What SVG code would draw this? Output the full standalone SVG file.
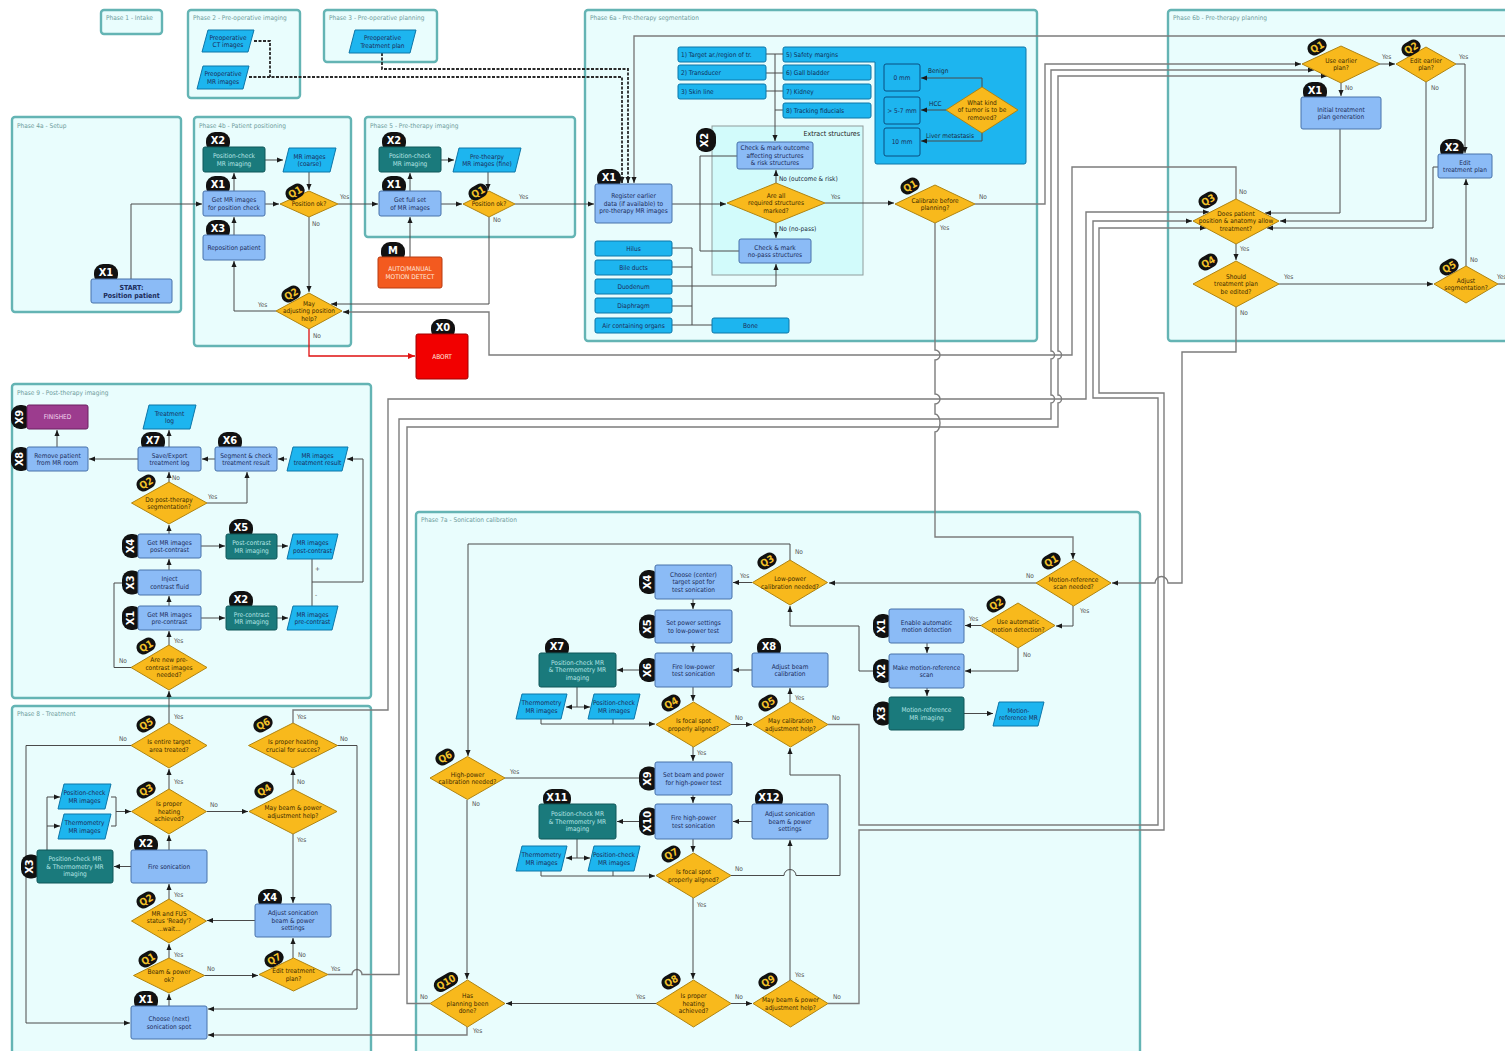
<svg xmlns="http://www.w3.org/2000/svg" width="1505" height="1051" viewBox="0 0 1505 1051">
<defs>
<marker id="ah" viewBox="0 0 8 8" refX="8" refY="4" markerWidth="6" markerHeight="6" markerUnits="userSpaceOnUse" orient="auto"><path d="M0,0.6 L8,4 L0,7.4 Z" fill="#1a1a1a"/></marker>
<marker id="ahr" viewBox="0 0 8 8" refX="8" refY="4" markerWidth="7" markerHeight="7" markerUnits="userSpaceOnUse" orient="auto"><path d="M0,0.6 L8,4 L0,7.4 Z" fill="#e01010"/></marker>
<style>
text{font-family:"DejaVu Sans Condensed","Liberation Sans Narrow","DejaVu Sans",sans-serif;font-stretch:condensed}
.ph{fill:#e9fdfd;stroke:#64b4b4;stroke-width:2.4}
.pl{font-size:6.5px;fill:#6e9c9c}
.p{fill:#8bbbf6;stroke:#4872aa;stroke-width:1}
.d{fill:#1a7a7c;stroke:#0f5658;stroke-width:1}
.io{fill:#1db5ef;stroke:#0d76a8;stroke-width:1}
.mm{fill:#1db5ef;stroke:#0a4f80;stroke-width:1}
.q{fill:#f8b91c;stroke:#b08410;stroke-width:1}
.t{font-size:6.5px;fill:#1c2c5a;text-anchor:middle}
.tb{font-size:7px;font-weight:bold;fill:#1c2c5a;text-anchor:middle}
.ts{font-size:6.5px;fill:#10305a}
.tl{font-size:6.5px;fill:#b4e4e4;text-anchor:middle}
.tw{font-size:6.5px;fill:#ffe6dc;text-anchor:middle}
.tf{font-size:6.5px;fill:#f4d8f0;text-anchor:middle}
.tq{font-size:6.5px;fill:#3c2a00;text-anchor:middle}
.lb{font-size:6.5px;fill:#555}
.lk{font-size:6.5px;fill:#1a2a40}
.c{fill:none;stroke:#4a4a4a;stroke-width:1;marker-end:url(#ah)}
.n{fill:none;stroke:#4a4a4a;stroke-width:1}
.r{fill:none;stroke:#7c7c7c;stroke-width:1.4;marker-end:url(#ah)}
.dash{fill:none;stroke:#2a2a2a;stroke-width:1.8;stroke-dasharray:3 1.5}
.bd{fill:#111}
.bx{font-size:11px;font-weight:bold;fill:#fff;text-anchor:middle}
.bq{font-size:10px;font-weight:bold;fill:#f3c22a;text-anchor:middle}
</style>
</defs>
<rect width="1505" height="1051" fill="#fff"/>

<!-- phase containers -->
<g id="phases">
<g id="phase-1"><rect class="ph" x="101" y="10" width="61" height="24" rx="3"/><text class="pl" x="106" y="20">Phase 1 - Intake</text></g>
<g id="phase-2"><rect class="ph" x="188" y="10" width="112" height="88" rx="3"/><text class="pl" x="193" y="20">Phase 2 - Pre-operative imaging</text></g>
<g id="phase-3"><rect class="ph" x="324" y="10" width="113" height="52" rx="3"/><text class="pl" x="329" y="20">Phase 3 - Pre-operative planning</text></g>
<g id="phase-4a"><rect class="ph" x="12" y="117" width="169" height="195" rx="3"/><text class="pl" x="17" y="128">Phase 4a - Setup</text></g>
<g id="phase-4b"><rect class="ph" x="194" y="117" width="157" height="229" rx="3"/><text class="pl" x="199" y="128">Phase 4b - Patient positioning</text></g>
<g id="phase-5"><rect class="ph" x="365" y="117" width="210" height="120" rx="3"/><text class="pl" x="370" y="128">Phase 5 - Pre-therapy imaging</text></g>
<g id="phase-6a"><rect class="ph" x="585" y="10" width="452" height="331" rx="3"/><text class="pl" x="590" y="20">Phase 6a - Pre-therapy segmentation</text></g>
<g id="phase-6b"><rect class="ph" x="1168" y="10" width="350" height="331" rx="3"/><text class="pl" x="1173" y="20">Phase 6b - Pre-therapy planning</text></g>
<g id="phase-9"><rect class="ph" x="12" y="384" width="359" height="314" rx="3"/><text class="pl" x="17" y="395">Phase 9 - Post-therapy imaging</text></g>
<g id="phase-8"><rect class="ph" x="12" y="706" width="359" height="360" rx="3"/><text class="pl" x="17" y="716">Phase 8 - Treatment</text></g>
<g id="phase-7a"><rect class="ph" x="416" y="512" width="724" height="560" rx="3"/><text class="pl" x="421" y="522">Phase 7a - Sonication calibration</text></g>
<g id="extract-structures"><rect x="712" y="126" width="151" height="149" fill="#d2fbfb" stroke="#909c9c" stroke-width="1"/><text x="860" y="136" font-size="7" fill="#222" text-anchor="end">Extract structures</text>
<g transform="translate(704,140) rotate(-90)"><rect class="bd" x="-12" y="-8" width="24" height="20" rx="9"/><text class="bx" y="4">X2</text></g></g>
<g id="safety-margins"><path class="io" d="M785,47 H1024 Q1026,47 1026,49 V162 Q1026,164 1024,164 H877 Q875,164 875,162 V62 H785 Q783,62 783,60 V49 Q783,47 785,47 Z"/><text class="ts" x="786" y="57">5) Safety margins</text></g>
</g>

<!-- connectors -->
<g id="connectors">
<path class="dash" d="M254,41 H270 V77"/>
<path class="dash" d="M249,77 H622 V183" marker-end="url(#ah)"/>
<path class="dash" d="M382,53 V69 H628 V183" marker-end="url(#ah)"/>
<path class="r" d="M1498,284 H1515 V36 H634 V183"/>
<path class="c" d="M131,279 V204 H202"/>
<path class="c" d="M234,191 V173"/>
<path class="c" d="M265,160 H283"/>
<path class="c" d="M309,172 V190"/>
<path class="c" d="M265,204 H279"/>
<path class="c" d="M338,204 H378"/>
<path class="c" d="M309,217 V292"/>
<path class="c" d="M234,235 V217"/>
<path class="c" d="M276,311 H234 V261"/>
<path fill="none" stroke="#e01010" stroke-width="1.3" marker-end="url(#ahr)" d="M309,329 V356 H415"/>
<path class="c" d="M489,217 V304 H331"/>
<path class="r" d="M1236,199 V167 H1072 V355 H489 V312 H343"/>
<path class="c" d="M410,191 V173"/>
<path class="c" d="M441,160 H454"/>
<path class="c" d="M488,172 V190"/>
<path class="c" d="M410,257 V217"/>
<path class="c" d="M441,204 H462"/>
<path class="c" d="M515,204 H594"/>
<path class="c" d="M672,204 H726"/>
<path class="n" d="M737,156 H700 V251 H739"/>
<path class="n" d="M766,54 H783 M766,73 H783 M766,91 H783 M775,110 H783"/>
<path class="c" d="M775,54 V141"/>
<path class="c" d="M776,183 V170"/>
<path class="c" d="M776,223 V238"/>
<path class="c" d="M825,203 H894"/>
<path class="n" d="M672,248 H692 V325 M672,267 H692 M672,306 H692 M672,325 H712"/>
<path class="c" d="M672,286 H776 V264"/>
<path class="c" d="M982,87 V78 H921"/>
<path class="c" d="M946,110 H921"/>
<path class="c" d="M982,133 V141 H921"/>
<path class="r" d="M975,204 H1045 V64 H1301"/>
<path class="r" d="M935,223 V350 A5,5 0 0 1 935,360 V394 A5,5 0 0 1 935,404 V414 A5,9 0 0 1 935,432 V537 H1073 V559"/>
<path class="c" d="M1380,64 H1395"/>
<path class="c" d="M1456,64 H1465 V153"/>
<path class="c" d="M1341,83 V96"/>
<path class="c" d="M1426,82 V221 H1280"/>
<path class="c" d="M1340,129 V213 H1265"/>
<path class="c" d="M1438,167 H1433 V228 H1267"/>
<path class="c" d="M1236,244 V260"/>
<path class="c" d="M1279,284 H1433"/>
<path class="c" d="M1466,266 V179"/>
<path class="r" d="M1236,307 V352 H1182 V583 H1168 A6,6 0 0 0 1155,583 H1112"/>
<path class="r" d="M293,723 V710 H388 V399 H1086 V212 H1209"/>
<path class="r" d="M828,724.5 H859 V825 H1158 V398 H1093 V221 H1192"/>
<path class="r" d="M828,1003.5 H859 V830 H1164 V393 H1099 V228 H1206"/>
<path class="r" d="M328,974.5 H352 A5,5 0 0 1 362,974.5 H399 V419 H1051 V403 A3.5,4 0 0 0 1051,395 V359 A3.5,4 0 0 0 1051,351 V70 H1314"/>
<path class="r" d="M430,1003.5 H407 V427 H1058 V403 A3.5,4 0 0 0 1058,395 V359 A3.5,4 0 0 0 1058,351 V76 H1327"/>
<path class="r" d="M467,1027 V1035 H208"/>
<path class="c" d="M337,745.5 H357 V1009 H208"/>
<path class="c" d="M131,745.5 H26 V1023 H130"/>
<!-- post-therapy imaging -->
<path class="c" d="M169,723 V691"/>
<path class="c" d="M169,645 V631"/>
<path class="c" d="M131,667.5 H114 V583 H137"/>
<path class="c" d="M169,606 V596"/>
<path class="c" d="M169,570 V559"/>
<path class="c" d="M201,546 H225"/>
<path class="c" d="M277,546 H288"/>
<path class="c" d="M201,618 H225"/>
<path class="c" d="M277,618 H288"/>
<path class="n" d="M312,559 V582 M312,606 V582"/>
<path class="c" d="M312,582 H363 V459 H347"/>
<path class="c" d="M169,534 V525"/>
<path class="c" d="M169,482 V472"/>
<path class="c" d="M207,503 H247 V472"/>
<path class="c" d="M287,459 H278"/>
<path class="c" d="M215,459 H202"/>
<path class="c" d="M138,459 H89"/>
<path class="c" d="M169,447 V430"/>
<path class="c" d="M57,447 V430"/>
<!-- treatment -->
<path class="c" d="M169,789 V769"/>
<path class="c" d="M207,811.5 H248"/>
<path class="c" d="M293,789 V769"/>
<path class="c" d="M293,834 V903"/>
<path class="n" d="M111,797 H116 V826 H111"/>
<path class="c" d="M116,811.5 H131"/>
<path class="c" d="M47,850 V797 H60"/>
<path class="c" d="M47,826 H60"/>
<path class="c" d="M131,866.5 H114"/>
<path class="c" d="M169,850 V835"/>
<path class="c" d="M169,899 V884"/>
<path class="c" d="M255,920.5 H207"/>
<path class="c" d="M169,958 V944"/>
<path class="c" d="M204,975.5 H258"/>
<path class="c" d="M293,958 V938"/>
<path class="c" d="M169,1006 V994"/>
<!-- sonication calibration -->
<path class="c" d="M1036,583 H829"/>
<path class="c" d="M1073,606 V626 H1056"/>
<path class="c" d="M981,625.5 H965"/>
<path class="c" d="M927,643 V653"/>
<path class="c" d="M1018,648 V671 H965"/>
<path class="c" d="M927,688 V696"/>
<path class="c" d="M964,713.5 H993"/>
<path class="c" d="M873,671 H859 V626 H790 V606"/>
<path class="c" d="M752,582.5 H733"/>
<path class="c" d="M790,560 V544 H468 V756"/>
<path class="c" d="M693,599 V609"/>
<path class="c" d="M693,643 V652"/>
<path class="c" d="M655,670 H617"/>
<path class="c" d="M577,687 V707 H566"/>
<path class="c" d="M577,707 H590"/>
<path class="n" d="M541,719 V724 H613 V719"/>
<path class="c" d="M613,724 H655"/>
<path class="c" d="M693,687 V701"/>
<path class="c" d="M731,724.5 H752"/>
<path class="c" d="M790,702 V688"/>
<path class="c" d="M752,670 H733"/>
<path class="n" d="M505,778 H641"/>
<path class="c" d="M467,800 V979"/>
<path class="c" d="M693,747 V761"/>
<path class="c" d="M693,795 V803"/>
<path class="c" d="M752,821.5 H733"/>
<path class="c" d="M655,821.5 H617"/>
<path class="c" d="M577,839 V858 H566"/>
<path class="c" d="M577,858 H590"/>
<path class="n" d="M541,871 V876 H613 V871"/>
<path class="c" d="M613,876 H655"/>
<path class="c" d="M693,839 V852"/>
<path class="c" d="M731,875.5 H784 A6,6 0 0 1 796,875.5 H840 V775 H790 V748"/>
<path class="c" d="M693,898 V979"/>
<path class="c" d="M731,1003.5 H752"/>
<path class="c" d="M790,980 V840"/>
<path class="c" d="M656,1003.5 H506"/>
</g>

<!-- connector labels -->
<g id="labels">
<text class="lb" x="340" y="199">Yes</text><text class="lb" x="312" y="226">No</text><text class="lb" x="258" y="307">Yes</text><text class="lb" x="313" y="338">No</text>
<text class="lb" x="519" y="199">Yes</text><text class="lb" x="493" y="222">No</text>
<text class="lk" x="928" y="73">Benign</text><text class="lk" x="929" y="106">HCC</text><text class="lk" x="926" y="138">Liver metastasis</text>
<text class="lk" x="779" y="181">No (outcome &amp; risk)</text><text class="lk" x="779" y="231">No (no-pass)</text>
<text class="lb" x="831" y="199">Yes</text><text class="lb" x="979" y="199">No</text><text class="lb" x="940" y="230">Yes</text>
<text class="lb" x="1382" y="59">Yes</text><text class="lb" x="1459" y="59">Yes</text><text class="lb" x="1345" y="90">No</text><text class="lb" x="1431" y="90">No</text>
<text class="lb" x="1239" y="194">No</text><text class="lb" x="1240" y="251">Yes</text><text class="lb" x="1284" y="279">Yes</text><text class="lb" x="1470" y="262">No</text><text class="lb" x="1497" y="279">Yes</text><text class="lb" x="1240" y="315">No</text>
<text class="lb" x="172" y="480">No</text><text class="lb" x="208" y="499">Yes</text><text class="lb" x="174" y="643">Yes</text><text class="lb" x="119" y="663">No</text><text class="lb" x="315" y="571">+</text><text class="lb" x="315" y="597">-</text>
<text class="lb" x="174" y="719">Yes</text><text class="lb" x="119" y="741">No</text><text class="lb" x="297" y="719">Yes</text><text class="lb" x="340" y="741">No</text>
<text class="lb" x="174" y="784">Yes</text><text class="lb" x="210" y="807">No</text><text class="lb" x="297" y="784">No</text><text class="lb" x="297" y="842">Yes</text>
<text class="lb" x="174" y="897">Yes</text><text class="lb" x="174" y="957">Yes</text><text class="lb" x="207" y="971">No</text><text class="lb" x="298" y="957">No</text><text class="lb" x="331" y="971">Yes</text>
<text class="lb" x="740" y="578">Yes</text><text class="lb" x="795" y="554">No</text><text class="lb" x="1026" y="578">No</text><text class="lb" x="1080" y="613">Yes</text><text class="lb" x="969" y="621">Yes</text><text class="lb" x="1023" y="657">No</text>
<text class="lb" x="735" y="720">No</text><text class="lb" x="795" y="700">Yes</text><text class="lb" x="832" y="720">No</text><text class="lb" x="510" y="774">Yes</text><text class="lb" x="472" y="806">No</text><text class="lb" x="697" y="755">Yes</text>
<text class="lb" x="735" y="871">No</text><text class="lb" x="697" y="907">Yes</text><text class="lb" x="735" y="999">No</text><text class="lb" x="795" y="977">Yes</text><text class="lb" x="833" y="999">No</text><text class="lb" x="636" y="999">Yes</text><text class="lb" x="420" y="999">No</text><text class="lb" x="473" y="1033">Yes</text>
</g>

<!-- phase 2 / 3 data -->
<g id="pre-ct"><polygon class="io" points="208,30 254,30 248,52 202,52"/><text class="t" x="228" y="39.5">Preoperative<tspan x="228" y="47">CT images</tspan></text></g>
<g id="pre-mr"><polygon class="io" points="203,66 249,66 243,89 197,89"/><text class="t" x="223" y="76">Preoperative<tspan x="223" y="83.5">MR images</tspan></text></g>
<g id="pre-plan"><polygon class="io" points="355,30 416,30 410,53 349,53"/><text class="t" x="382.5" y="40">Preoperative<tspan x="382.5" y="47.5">Treatment plan</tspan></text></g>

<!-- phase 4a / 4b -->
<g id="p4a-start"><g transform="translate(106,272)"><rect class="bd" x="-12" y="-8" width="24" height="20" rx="9"/><text class="bx" y="4">X1</text></g><rect class="p" x="91" y="279" width="81" height="24" rx="2"/><text class="tb" x="131.5" y="289.5">START:<tspan x="131.5" y="297.5">Position patient</tspan></text></g>
<g id="p4b-x2"><g transform="translate(218,140)"><rect class="bd" x="-12" y="-8" width="24" height="20" rx="9"/><text class="bx" y="4">X2</text></g><rect class="d" x="203" y="147" width="62" height="25" rx="2"/><text class="tl" x="234" y="158">Position-check<tspan x="234" y="165.5">MR imaging</tspan></text></g>
<g id="p4b-coarse"><polygon class="io" points="289,148 336,148 330,172 283,172"/><text class="t" x="309.5" y="158.5">MR images<tspan x="309.5" y="166">(coarse)</tspan></text></g>
<g id="p4b-x1"><g transform="translate(218,184)"><rect class="bd" x="-12" y="-8" width="24" height="20" rx="9"/><text class="bx" y="4">X1</text></g><rect class="p" x="203" y="191" width="62" height="25" rx="2"/><text class="t" x="234" y="202">Get MR images<tspan x="234" y="209.5">for position check</tspan></text></g>
<g id="p4b-q1"><polygon class="q" points="280,204 309,191 338,204 309,217"/><g transform="translate(295,192) rotate(-30)"><rect class="bd" x="-10" y="-7" width="20" height="14" rx="7"/><text class="bq" y="3.6">Q1</text></g><text class="tq" x="309" y="206.3">Position ok?</text></g>
<g id="p4b-x3"><g transform="translate(218,228)"><rect class="bd" x="-12" y="-8" width="24" height="20" rx="9"/><text class="bx" y="4">X3</text></g><rect class="p" x="203" y="235" width="62" height="25" rx="2"/><text class="t" x="234" y="249.8">Reposition patient</text></g>
<g id="p4b-q2"><polygon class="q" points="276,311 309,293 342,311 309,329"/><g transform="translate(291,294) rotate(-30)"><rect class="bd" x="-10" y="-7" width="20" height="14" rx="7"/><text class="bq" y="3.6">Q2</text></g><text class="tq" x="309" y="305.8">May<tspan x="309" y="313.3">adjusting position</tspan><tspan x="309" y="320.8">help?</tspan></text></g>
<g id="abort"><g transform="translate(443,327)"><rect class="bd" x="-12" y="-8" width="24" height="20" rx="9"/><text class="bx" y="4">X0</text></g><rect x="416" y="334" width="52" height="45" rx="2" fill="#f20000" stroke="#a00000"/><text class="tw" x="442" y="358.8">ABORT</text></g>

<!-- phase 5 -->
<g id="p5-x2"><g transform="translate(394,140)"><rect class="bd" x="-12" y="-8" width="24" height="20" rx="9"/><text class="bx" y="4">X2</text></g><rect class="d" x="379" y="147" width="62" height="25" rx="2"/><text class="tl" x="410" y="158">Position-check<tspan x="410" y="165.5">MR imaging</tspan></text></g>
<g id="p5-fine"><polygon class="io" points="459,148 521,148 515,172 453,172"/><text class="t" x="487" y="158.5">Pre-thearpy<tspan x="487" y="166">MR images (fine)</tspan></text></g>
<g id="p5-x1"><g transform="translate(394,184)"><rect class="bd" x="-12" y="-8" width="24" height="20" rx="9"/><text class="bx" y="4">X1</text></g><rect class="p" x="379" y="191" width="62" height="25" rx="2"/><text class="t" x="410" y="202">Get full set<tspan x="410" y="209.5">of MR images</tspan></text></g>
<g id="p5-q1"><polygon class="q" points="463,204 489,191 515,204 489,217"/><g transform="translate(478,192) rotate(-30)"><rect class="bd" x="-10" y="-7" width="20" height="14" rx="7"/><text class="bq" y="3.6">Q1</text></g><text class="tq" x="489" y="206.3">Position ok?</text></g>
<g id="p5-motion"><g transform="translate(393,250)"><rect class="bd" x="-12" y="-8" width="24" height="20" rx="9"/><text class="bx" y="4">M</text></g><rect x="378" y="257" width="64" height="31" rx="2" fill="#f35a1f" stroke="#b83a10"/><text class="tw" x="410" y="271">AUTO/MANUAL<tspan x="410" y="278.5">MOTION DETECT</tspan></text></g>

<!-- phase 6a -->
<g id="p6a-x1"><g transform="translate(609,177)"><rect class="bd" x="-12" y="-8" width="24" height="20" rx="9"/><text class="bx" y="4">X1</text></g><rect class="p" x="595" y="184" width="77" height="39" rx="2"/><text class="t" x="633.5" y="198.3">Register earlier<tspan x="633.5" y="205.8">data (if available) to</tspan><tspan x="633.5" y="213.3">pre-therapy MR images</tspan></text></g>
<g id="s1"><rect class="io" x="678" y="47" width="88" height="15" rx="2"/><text class="ts" x="681" y="57">1) Target ar./region of tr.</text></g>
<g id="s2"><rect class="io" x="678" y="65" width="88" height="15" rx="2"/><text class="ts" x="681" y="75">2) Transducer</text></g>
<g id="s3"><rect class="io" x="678" y="84" width="88" height="15" rx="2"/><text class="ts" x="681" y="94">3) Skin line</text></g>
<g id="s6"><rect class="io" x="783" y="65" width="88" height="15" rx="2"/><text class="ts" x="786" y="75">6) Gall bladder</text></g>
<g id="s7"><rect class="io" x="783" y="84" width="88" height="15" rx="2"/><text class="ts" x="786" y="94">7) Kidney</text></g>
<g id="s8"><rect class="io" x="783" y="103" width="88" height="15" rx="2"/><text class="ts" x="786" y="113">8) Tracking fiducials</text></g>
<g id="m0"><rect class="mm" x="884" y="64" width="36" height="27" rx="2"/><text class="t" x="902" y="79.8">0 mm</text></g>
<g id="m57"><rect class="mm" x="884" y="97" width="36" height="27" rx="2"/><text class="t" x="902" y="112.8">&gt; 5-7 mm</text></g>
<g id="m10"><rect class="mm" x="884" y="128" width="36" height="28" rx="2"/><text class="t" x="902" y="144.3">10 mm</text></g>
<g id="tumor"><polygon class="q" points="946,110 982,87 1018,110 982,133"/><text class="tq" x="982" y="104.8">What kind<tspan x="982" y="112.3">of tumor is to be</tspan><tspan x="982" y="119.8">removed?</tspan></text></g>
<g id="check-outcome"><rect class="p" x="737" y="142" width="76" height="27" rx="2"/><text class="t" x="775" y="150.3">Check &amp; mark outcome<tspan x="775" y="157.8">affecting structures</tspan><tspan x="775" y="165.3">&amp; risk structures</tspan></text></g>
<g id="all-marked"><polygon class="q" points="727,203 776,183 825,203 776,223"/><text class="tq" x="776" y="197.8">Are all<tspan x="776" y="205.3">required structures</tspan><tspan x="776" y="212.8">marked?</tspan></text></g>
<g id="check-nopass"><rect class="p" x="739" y="239" width="72" height="24" rx="2"/><text class="t" x="775" y="249.5">Check &amp; mark<tspan x="775" y="257">no-pass structures</tspan></text></g>
<g id="hilus"><rect class="io" x="595" y="241" width="77" height="15" rx="2"/><text class="t" x="633.5" y="250.8">Hilus</text></g>
<g id="bile"><rect class="io" x="595" y="260" width="77" height="15" rx="2"/><text class="t" x="633.5" y="269.8">Bile ducts</text></g>
<g id="duodenum"><rect class="io" x="595" y="279" width="77" height="15" rx="2"/><text class="t" x="633.5" y="288.8">Duodenum</text></g>
<g id="diaphragm"><rect class="io" x="595" y="298" width="77" height="15" rx="2"/><text class="t" x="633.5" y="307.8">Diaphragm</text></g>
<g id="air"><rect class="io" x="595" y="318" width="77" height="15" rx="2"/><text class="t" x="633.5" y="327.8">Air containing organs</text></g>
<g id="bone"><rect class="io" x="712" y="318" width="77" height="15" rx="2"/><text class="t" x="750.5" y="327.8">Bone</text></g>
<g id="p6a-q1"><polygon class="q" points="895,204 935,185 975,204 935,223"/><g transform="translate(910,186) rotate(-30)"><rect class="bd" x="-10" y="-7" width="20" height="14" rx="7"/><text class="bq" y="3.6">Q1</text></g><text class="tq" x="935" y="202.5">Calibrate before<tspan x="935" y="210">planning?</tspan></text></g>

<!-- phase 6b -->
<g id="p6b-q1"><polygon class="q" points="1302,64 1341,46 1380,64 1341,83"/><g transform="translate(1317,47) rotate(-30)"><rect class="bd" x="-10" y="-7" width="20" height="14" rx="7"/><text class="bq" y="3.6">Q1</text></g><text class="tq" x="1341" y="62.5">Use earlier<tspan x="1341" y="70">plan?</tspan></text></g>
<g id="p6b-q2"><polygon class="q" points="1396,64 1426,47 1456,64 1426,82"/><g transform="translate(1411,48) rotate(-30)"><rect class="bd" x="-10" y="-7" width="20" height="14" rx="7"/><text class="bq" y="3.6">Q2</text></g><text class="tq" x="1426" y="62.5">Edit earlier<tspan x="1426" y="70">plan?</tspan></text></g>
<g id="p6b-x1"><g transform="translate(1315,90)"><rect class="bd" x="-12" y="-8" width="24" height="20" rx="9"/><text class="bx" y="4">X1</text></g><rect class="p" x="1301" y="97" width="80" height="32" rx="2"/><text class="t" x="1341" y="111.5">Initial treatment<tspan x="1341" y="119">plan generation</tspan></text></g>
<g id="p6b-x2"><g transform="translate(1452,147)"><rect class="bd" x="-12" y="-8" width="24" height="20" rx="9"/><text class="bx" y="4">X2</text></g><rect class="p" x="1438" y="154" width="54" height="24" rx="2"/><text class="t" x="1465" y="164.5">Edit<tspan x="1465" y="172">treatment plan</tspan></text></g>
<g id="p6b-q3"><polygon class="q" points="1193,221 1236,199 1279,221 1236,244"/><g transform="translate(1208,200) rotate(-30)"><rect class="bd" x="-10" y="-7" width="20" height="14" rx="7"/><text class="bq" y="3.6">Q3</text></g><text class="tq" x="1236" y="215.8">Does patient<tspan x="1236" y="223.3">position &amp; anatomy allow</tspan><tspan x="1236" y="230.8">treatment?</tspan></text></g>
<g id="p6b-q4"><polygon class="q" points="1193,284 1236,261 1279,284 1236,307"/><g transform="translate(1208,262) rotate(-30)"><rect class="bd" x="-10" y="-7" width="20" height="14" rx="7"/><text class="bq" y="3.6">Q4</text></g><text class="tq" x="1236" y="278.8">Should<tspan x="1236" y="286.3">treatment plan</tspan><tspan x="1236" y="293.8">be edited?</tspan></text></g>
<g id="p6b-q5"><polygon class="q" points="1434,284 1466,266 1498,284 1466,303"/><g transform="translate(1449,267) rotate(-30)"><rect class="bd" x="-10" y="-7" width="20" height="14" rx="7"/><text class="bq" y="3.6">Q5</text></g><text class="tq" x="1466" y="282.5">Adjust<tspan x="1466" y="290">segmentation?</tspan></text></g>

<!-- phase 9 -->
<g id="p9-x9"><g transform="translate(19,417) rotate(-90)"><rect class="bd" x="-12" y="-8" width="24" height="20" rx="9"/><text class="bx" y="4">X9</text></g><rect x="27" y="405" width="61" height="24" rx="2" fill="#9c3c8e" stroke="#6a2060"/><text class="tf" x="57.5" y="419.3">FINISHED</text></g>
<g id="p9-x8"><g transform="translate(19,459) rotate(-90)"><rect class="bd" x="-12" y="-8" width="24" height="20" rx="9"/><text class="bx" y="4">X8</text></g><rect class="p" x="27" y="447" width="61" height="24" rx="2"/><text class="t" x="57.5" y="457.5">Remove patient<tspan x="57.5" y="465">from MR room</tspan></text></g>
<g id="p9-x7"><g transform="translate(153,440)"><rect class="bd" x="-12" y="-8" width="24" height="20" rx="9"/><text class="bx" y="4">X7</text></g><rect class="p" x="138" y="447" width="63" height="24" rx="2"/><text class="t" x="169.5" y="457.5">Save/Export<tspan x="169.5" y="465">treatment log</tspan></text></g>
<g id="p9-log"><polygon class="io" points="149,405 196,405 190,429 143,429"/><text class="t" x="169.5" y="415.5">Treatment<tspan x="169.5" y="423">log</tspan></text></g>
<g id="p9-x6"><g transform="translate(230,440)"><rect class="bd" x="-12" y="-8" width="24" height="20" rx="9"/><text class="bx" y="4">X6</text></g><rect class="p" x="215" y="447" width="62" height="24" rx="2"/><text class="t" x="246" y="457.5">Segment &amp; check<tspan x="246" y="465">treatment result</tspan></text></g>
<g id="p9-result"><polygon class="io" points="293,447 348,447 342,471 287,471"/><text class="t" x="317.5" y="457.5">MR images<tspan x="317.5" y="465">treatment result</tspan></text></g>
<g id="p9-q2"><polygon class="q" points="131.5,503 169,482 207,503 169,524"/><g transform="translate(146,483) rotate(-30)"><rect class="bd" x="-10" y="-7" width="20" height="14" rx="7"/><text class="bq" y="3.6">Q2</text></g><text class="tq" x="169" y="501.5">Do post-therapy<tspan x="169" y="509">segmentation?</tspan></text></g>
<g id="p9-x4"><g transform="translate(130,546) rotate(-90)"><rect class="bd" x="-12" y="-8" width="24" height="20" rx="9"/><text class="bx" y="4">X4</text></g><rect class="p" x="138" y="534" width="63" height="24" rx="2"/><text class="t" x="169.5" y="544.5">Get MR images<tspan x="169.5" y="552">post-contrast</tspan></text></g>
<g id="p9-x5"><g transform="translate(241,527)"><rect class="bd" x="-12" y="-8" width="24" height="20" rx="9"/><text class="bx" y="4">X5</text></g><rect class="d" x="226" y="534" width="51" height="25" rx="2"/><text class="tl" x="251.5" y="545">Post-contrast<tspan x="251.5" y="552.5">MR imaging</tspan></text></g>
<g id="p9-post"><polygon class="io" points="293,534 338,534 332,559 287,559"/><text class="t" x="312.5" y="545">MR images<tspan x="312.5" y="552.5">post-contrast</tspan></text></g>
<g id="p9-x3"><g transform="translate(130,582.5) rotate(-90)"><rect class="bd" x="-12" y="-8" width="24" height="20" rx="9"/><text class="bx" y="4">X3</text></g><rect class="p" x="138" y="570" width="63" height="25" rx="2"/><text class="t" x="169.5" y="581">Inject<tspan x="169.5" y="588.5">contrast fluid</tspan></text></g>
<g id="p9-x1"><g transform="translate(130,618) rotate(-90)"><rect class="bd" x="-12" y="-8" width="24" height="20" rx="9"/><text class="bx" y="4">X1</text></g><rect class="p" x="138" y="606" width="63" height="24" rx="2"/><text class="t" x="169.5" y="616.5">Get MR images<tspan x="169.5" y="624">pre-contrast</tspan></text></g>
<g id="p9-x2"><g transform="translate(241,599)"><rect class="bd" x="-12" y="-8" width="24" height="20" rx="9"/><text class="bx" y="4">X2</text></g><rect class="d" x="226" y="606" width="51" height="24" rx="2"/><text class="tl" x="251.5" y="616.5">Pre-contrast<tspan x="251.5" y="624">MR imaging</tspan></text></g>
<g id="p9-pre"><polygon class="io" points="293,606 338,606 332,630 287,630"/><text class="t" x="312.5" y="616.5">MR images<tspan x="312.5" y="624">pre-contrast</tspan></text></g>
<g id="p9-q1"><polygon class="q" points="131,667.5 169,645 207,667.5 169,690"/><g transform="translate(146,646) rotate(-30)"><rect class="bd" x="-10" y="-7" width="20" height="14" rx="7"/><text class="bq" y="3.6">Q1</text></g><text class="tq" x="169" y="662.3">Are new pre-<tspan x="169" y="669.8">contrast images</tspan><tspan x="169" y="677.3">needed?</tspan></text></g>

<!-- phase 8 -->
<g id="p8-q5"><polygon class="q" points="131,745.5 169,723 207,745.5 169,768"/><g transform="translate(146,724) rotate(-30)"><rect class="bd" x="-10" y="-7" width="20" height="14" rx="7"/><text class="bq" y="3.6">Q5</text></g><text class="tq" x="169" y="744">Is entire target<tspan x="169" y="751.5">area treated?</tspan></text></g>
<g id="p8-q6"><polygon class="q" points="248.5,745.5 293,723 337.5,745.5 293,768"/><g transform="translate(263,724) rotate(-30)"><rect class="bd" x="-10" y="-7" width="20" height="14" rx="7"/><text class="bq" y="3.6">Q6</text></g><text class="tq" x="293" y="744">Is proper heating<tspan x="293" y="751.5">crucial for succes?</tspan></text></g>
<g id="p8-q3"><polygon class="q" points="131.5,811.5 169,789 206.5,811.5 169,834"/><g transform="translate(146,790) rotate(-30)"><rect class="bd" x="-10" y="-7" width="20" height="14" rx="7"/><text class="bq" y="3.6">Q3</text></g><text class="tq" x="169" y="806.3">Is proper<tspan x="169" y="813.8">heating</tspan><tspan x="169" y="821.3">achieved?</tspan></text></g>
<g id="p8-q4"><polygon class="q" points="249,811.5 293,789 337,811.5 293,834"/><g transform="translate(264,790) rotate(-30)"><rect class="bd" x="-10" y="-7" width="20" height="14" rx="7"/><text class="bq" y="3.6">Q4</text></g><text class="tq" x="293" y="810">May beam &amp; power<tspan x="293" y="817.5">adjustment help?</tspan></text></g>
<g id="p8-poscheck"><polygon class="io" points="64,784 111,784 105,809 58,809"/><text class="t" x="84.5" y="795">Position-check<tspan x="84.5" y="802.5">MR images</tspan></text></g>
<g id="p8-thermo"><polygon class="io" points="64,814 111,814 105,839 58,839"/><text class="t" x="84.5" y="825">Thermometry<tspan x="84.5" y="832.5">MR images</tspan></text></g>
<g id="p8-x3"><g transform="translate(29,866.5) rotate(-90)"><rect class="bd" x="-12" y="-8" width="24" height="20" rx="9"/><text class="bx" y="4">X3</text></g><rect class="d" x="37" y="850" width="76" height="33" rx="2"/><text class="tl" x="75" y="861.3">Position-check MR<tspan x="75" y="868.8">&amp; Thermometry MR</tspan><tspan x="75" y="876.3">imaging</tspan></text></g>
<g id="p8-x2"><g transform="translate(146,843)"><rect class="bd" x="-12" y="-8" width="24" height="20" rx="9"/><text class="bx" y="4">X2</text></g><rect class="p" x="131" y="850" width="76" height="33" rx="2"/><text class="t" x="169" y="868.8">Fire sonication</text></g>
<g id="p8-q2"><polygon class="q" points="131.5,921 169,899 206.5,921 169,943"/><g transform="translate(146,900) rotate(-30)"><rect class="bd" x="-10" y="-7" width="20" height="14" rx="7"/><text class="bq" y="3.6">Q2</text></g><text class="tq" x="169" y="915.8">MR and FUS<tspan x="169" y="923.3">status 'Ready'?</tspan><tspan x="169" y="930.8">...wait...</tspan></text></g>
<g id="p8-x4"><g transform="translate(270,897)"><rect class="bd" x="-12" y="-8" width="24" height="20" rx="9"/><text class="bx" y="4">X4</text></g><rect class="p" x="255" y="904" width="76" height="33" rx="2"/><text class="t" x="293" y="915.3">Adjust sonication<tspan x="293" y="922.8">beam &amp; power</tspan><tspan x="293" y="930.3">settings</tspan></text></g>
<g id="p8-q1"><polygon class="q" points="133.5,975.5 169,958 204.5,975.5 169,993"/><g transform="translate(148,959) rotate(-30)"><rect class="bd" x="-10" y="-7" width="20" height="14" rx="7"/><text class="bq" y="3.6">Q1</text></g><text class="tq" x="169" y="974">Beam &amp; power<tspan x="169" y="981.5">ok?</tspan></text></g>
<g id="p8-q7"><polygon class="q" points="259,974.5 293.5,958 328,974.5 293.5,991"/><g transform="translate(274,959) rotate(-30)"><rect class="bd" x="-10" y="-7" width="20" height="14" rx="7"/><text class="bq" y="3.6">Q7</text></g><text class="tq" x="293.5" y="973">Edit treatment<tspan x="293.5" y="980.5">plan?</tspan></text></g>
<g id="p8-x1"><g transform="translate(146,999)"><rect class="bd" x="-12" y="-8" width="24" height="20" rx="9"/><text class="bx" y="4">X1</text></g><rect class="p" x="131" y="1006" width="76" height="33" rx="2"/><text class="t" x="169" y="1021">Choose (next)<tspan x="169" y="1028.5">sonication spot</tspan></text></g>

<!-- phase 7a -->
<g id="p7-q3"><polygon class="q" points="752.5,582.5 790,560 827.5,582.5 790,605"/><g transform="translate(767,561) rotate(-30)"><rect class="bd" x="-10" y="-7" width="20" height="14" rx="7"/><text class="bq" y="3.6">Q3</text></g><text class="tq" x="790" y="581">Low-power<tspan x="790" y="588.5">calibration needed?</tspan></text></g>
<g id="p7-x4"><g transform="translate(647,582) rotate(-90)"><rect class="bd" x="-12" y="-8" width="24" height="20" rx="9"/><text class="bx" y="4">X4</text></g><rect class="p" x="655" y="565" width="77" height="34" rx="2"/><text class="t" x="693.5" y="576.8">Choose (center)<tspan x="693.5" y="584.3">target spot for</tspan><tspan x="693.5" y="591.8">test sonication</tspan></text></g>
<g id="p7-x5"><g transform="translate(647,626.5) rotate(-90)"><rect class="bd" x="-12" y="-8" width="24" height="20" rx="9"/><text class="bx" y="4">X5</text></g><rect class="p" x="655" y="610" width="77" height="33" rx="2"/><text class="t" x="693.5" y="625">Set power settings<tspan x="693.5" y="632.5">to low-power test</tspan></text></g>
<g id="p7-x6"><g transform="translate(647,670) rotate(-90)"><rect class="bd" x="-12" y="-8" width="24" height="20" rx="9"/><text class="bx" y="4">X6</text></g><rect class="p" x="655" y="653" width="77" height="34" rx="2"/><text class="t" x="693.5" y="668.5">Fire low-power<tspan x="693.5" y="676">test sonication</tspan></text></g>
<g id="p7-x7"><g transform="translate(557,646)"><rect class="bd" x="-12" y="-8" width="24" height="20" rx="9"/><text class="bx" y="4">X7</text></g><rect class="d" x="539" y="653" width="77" height="34" rx="2"/><text class="tl" x="577.5" y="664.8">Position-check MR<tspan x="577.5" y="672.3">&amp; Thermometry MR</tspan><tspan x="577.5" y="679.8">imaging</tspan></text></g>
<g id="p7-thermo1"><polygon class="io" points="522,694 567,694 561,719 516,719"/><text class="t" x="541.5" y="705">Thermometry<tspan x="541.5" y="712.5">MR images</tspan></text></g>
<g id="p7-pos1"><polygon class="io" points="594,694 640,694 634,719 588,719"/><text class="t" x="614" y="705">Position-check<tspan x="614" y="712.5">MR images</tspan></text></g>
<g id="p7-q4"><polygon class="q" points="656,724.5 693.5,702 731,724.5 693.5,747"/><g transform="translate(671,703) rotate(-30)"><rect class="bd" x="-10" y="-7" width="20" height="14" rx="7"/><text class="bq" y="3.6">Q4</text></g><text class="tq" x="693.5" y="723">Is focal spot<tspan x="693.5" y="730.5">properly aligned?</tspan></text></g>
<g id="p7-q5"><polygon class="q" points="753,724.5 790.5,702 828,724.5 790.5,747"/><g transform="translate(768,703) rotate(-30)"><rect class="bd" x="-10" y="-7" width="20" height="14" rx="7"/><text class="bq" y="3.6">Q5</text></g><text class="tq" x="790.5" y="723">May calibration<tspan x="790.5" y="730.5">adjustment help?</tspan></text></g>
<g id="p7-x8"><g transform="translate(769,646)"><rect class="bd" x="-12" y="-8" width="24" height="20" rx="9"/><text class="bx" y="4">X8</text></g><rect class="p" x="752" y="653" width="76" height="34" rx="2"/><text class="t" x="790" y="668.5">Adjust beam<tspan x="790" y="676">calibration</tspan></text></g>
<g id="p7-q6"><polygon class="q" points="430,778 467.5,756.5 505,778 467.5,799.5"/><g transform="translate(445,757) rotate(-30)"><rect class="bd" x="-10" y="-7" width="20" height="14" rx="7"/><text class="bq" y="3.6">Q6</text></g><text class="tq" x="467.5" y="776.5">High-power<tspan x="467.5" y="784">calibration needed?</tspan></text></g>
<g id="p7-x9"><g transform="translate(647,778.5) rotate(-90)"><rect class="bd" x="-12" y="-8" width="24" height="20" rx="9"/><text class="bx" y="4">X9</text></g><rect class="p" x="655" y="762" width="77" height="33" rx="2"/><text class="t" x="693.5" y="777">Set beam and power<tspan x="693.5" y="784.5">for high-power test</tspan></text></g>
<g id="p7-x10"><g transform="translate(647,821.5) rotate(-90)"><rect class="bd" x="-14" y="-8" width="28" height="20" rx="9"/><text class="bx" y="4">X10</text></g><rect class="p" x="655" y="804" width="77" height="35" rx="2"/><text class="t" x="693.5" y="820">Fire high-power<tspan x="693.5" y="827.5">test sonication</tspan></text></g>
<g id="p7-x11"><g transform="translate(557,797)"><rect class="bd" x="-14" y="-8" width="28" height="20" rx="9"/><text class="bx" y="4">X11</text></g><rect class="d" x="539" y="804" width="77" height="35" rx="2"/><text class="tl" x="577.5" y="816.3">Position-check MR<tspan x="577.5" y="823.8">&amp; Thermometry MR</tspan><tspan x="577.5" y="831.3">imaging</tspan></text></g>
<g id="p7-x12"><g transform="translate(769,797)"><rect class="bd" x="-14" y="-8" width="28" height="20" rx="9"/><text class="bx" y="4">X12</text></g><rect class="p" x="752" y="804" width="76" height="35" rx="2"/><text class="t" x="790" y="816.3">Adjust sonication<tspan x="790" y="823.8">beam &amp; power</tspan><tspan x="790" y="831.3">settings</tspan></text></g>
<g id="p7-thermo2"><polygon class="io" points="522,846 567,846 561,871 516,871"/><text class="t" x="541.5" y="857">Thermometry<tspan x="541.5" y="864.5">MR images</tspan></text></g>
<g id="p7-pos2"><polygon class="io" points="594,846 640,846 634,871 588,871"/><text class="t" x="614" y="857">Position-check<tspan x="614" y="864.5">MR images</tspan></text></g>
<g id="p7-q7"><polygon class="q" points="656,875.5 693.5,853 731,875.5 693.5,898"/><g transform="translate(671,854) rotate(-30)"><rect class="bd" x="-10" y="-7" width="20" height="14" rx="7"/><text class="bq" y="3.6">Q7</text></g><text class="tq" x="693.5" y="874">Is focal spot<tspan x="693.5" y="881.5">properly aligned?</tspan></text></g>
<g id="p7-q8"><polygon class="q" points="656,1003.5 693.5,980 731,1003.5 693.5,1027"/><g transform="translate(671,981) rotate(-30)"><rect class="bd" x="-10" y="-7" width="20" height="14" rx="7"/><text class="bq" y="3.6">Q8</text></g><text class="tq" x="693.5" y="998.3">Is proper<tspan x="693.5" y="1005.8">heating</tspan><tspan x="693.5" y="1013.3">achieved?</tspan></text></g>
<g id="p7-q9"><polygon class="q" points="753,1003.5 790.5,980 828,1003.5 790.5,1027"/><g transform="translate(768,981) rotate(-30)"><rect class="bd" x="-10" y="-7" width="20" height="14" rx="7"/><text class="bq" y="3.6">Q9</text></g><text class="tq" x="790.5" y="1002">May beam &amp; power<tspan x="790.5" y="1009.5">adjustment help?</tspan></text></g>
<g id="p7-q10"><polygon class="q" points="430,1003.5 467.5,980 505,1003.5 467.5,1027"/><g transform="translate(446,982) rotate(-30)"><rect class="bd" x="-13" y="-7" width="26" height="14" rx="7"/><text class="bq" y="3.6">Q10</text></g><text class="tq" x="467.5" y="998.3">Has<tspan x="467.5" y="1005.8">planning been</tspan><tspan x="467.5" y="1013.3">done?</tspan></text></g>
<g id="p7-q1"><polygon class="q" points="1036,583 1073.5,560 1111,583 1073.5,606"/><g transform="translate(1051,561) rotate(-30)"><rect class="bd" x="-10" y="-7" width="20" height="14" rx="7"/><text class="bq" y="3.6">Q1</text></g><text class="tq" x="1073.5" y="581.5">Motion-reference<tspan x="1073.5" y="589">scan needed?</tspan></text></g>
<g id="p7-q2"><polygon class="q" points="981,625.5 1018,603 1055,625.5 1018,648"/><g transform="translate(996,604) rotate(-30)"><rect class="bd" x="-10" y="-7" width="20" height="14" rx="7"/><text class="bq" y="3.6">Q2</text></g><text class="tq" x="1018" y="624">Use automatic<tspan x="1018" y="631.5">motion detection?</tspan></text></g>
<g id="p7-mx1"><g transform="translate(881,626) rotate(-90)"><rect class="bd" x="-12" y="-8" width="24" height="20" rx="9"/><text class="bx" y="4">X1</text></g><rect class="p" x="889" y="609" width="75" height="34" rx="2"/><text class="t" x="926.5" y="624.5">Enable automatic<tspan x="926.5" y="632">motion detection</tspan></text></g>
<g id="p7-mx2"><g transform="translate(881,671) rotate(-90)"><rect class="bd" x="-12" y="-8" width="24" height="20" rx="9"/><text class="bx" y="4">X2</text></g><rect class="p" x="889" y="654" width="75" height="34" rx="2"/><text class="t" x="926.5" y="669.5">Make motion-reference<tspan x="926.5" y="677">scan</tspan></text></g>
<g id="p7-mx3"><g transform="translate(881,713.5) rotate(-90)"><rect class="bd" x="-12" y="-8" width="24" height="20" rx="9"/><text class="bx" y="4">X3</text></g><rect class="d" x="889" y="697" width="75" height="33" rx="2"/><text class="tl" x="926.5" y="712">Motion-reference<tspan x="926.5" y="719.5">MR imaging</tspan></text></g>
<g id="p7-motionref"><polygon class="io" points="999,702 1044,702 1038,726 993,726"/><text class="t" x="1018.5" y="712.5">Motion-<tspan x="1018.5" y="720">reference MR</tspan></text></g>
</svg>
